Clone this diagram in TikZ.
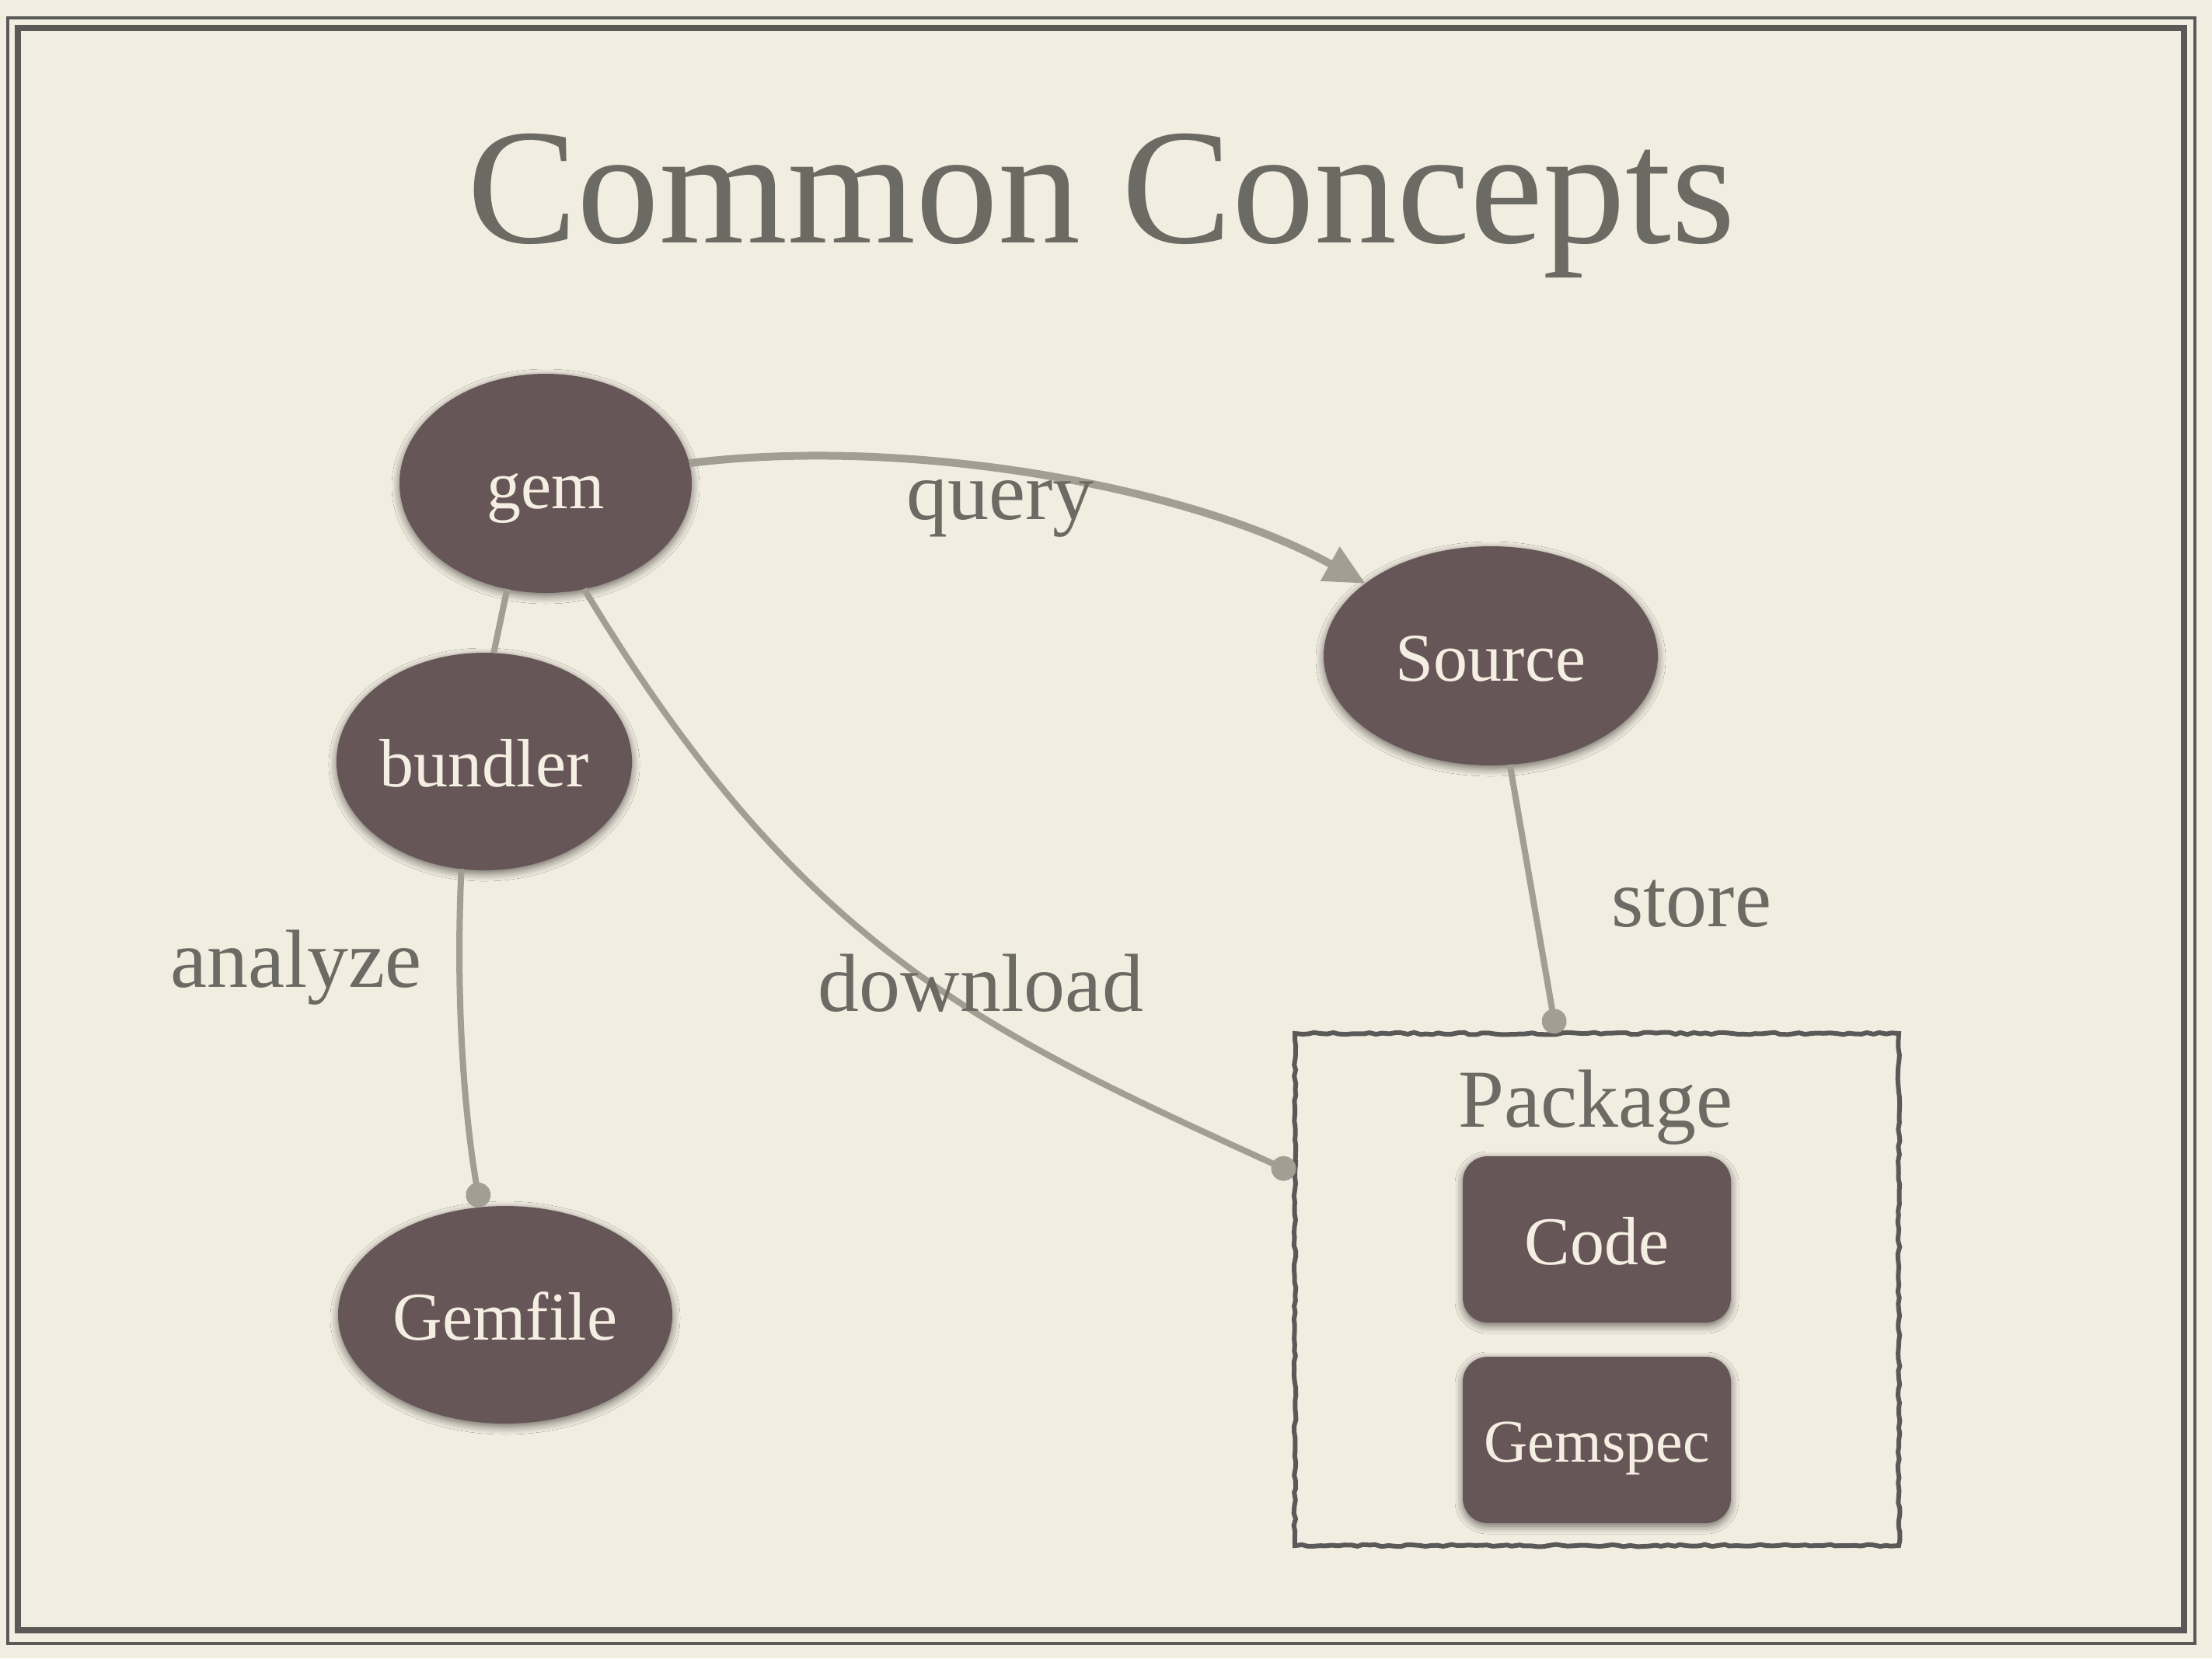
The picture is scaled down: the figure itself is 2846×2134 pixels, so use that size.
\documentclass[tikz,border=0pt]{standalone}
\usepackage{fontspec}
\setmainfont{Liberation Serif}
\usetikzlibrary{shapes.geometric,arrows.meta,shadows.blur,decorations.pathmorphing}

\definecolor{paper}{HTML}{F2EDE1}
\definecolor{plum}{HTML}{675657}
\definecolor{cream}{HTML}{F5EFE3}
\definecolor{wire}{HTML}{A39E94}
\definecolor{ink}{HTML}{6B6A63}
\definecolor{rim}{HTML}{5A5957}

\begin{document}
\begin{tikzpicture}[x=0.25pt,y=-0.25pt,
  softshadow/.style={blur shadow={shadow xshift=0pt, shadow yshift=-1pt,
      shadow blur radius=2.5pt, shadow blur steps=8, shadow opacity=55}},
  blob/.style={ellipse, fill=plum, text=cream, inner sep=0pt, outer sep=0pt,
      font=\fontsize{22pt}{26pt}\selectfont, text height=16pt, text depth=0pt,
      softshadow},
  tile/.style={rectangle, rounded corners=8pt, fill=plum, text=cream,
      inner sep=0pt, outer sep=0pt, minimum width=86.25pt, minimum height=53.5pt,
      font=\fontsize{22pt}{26pt}\selectfont, text height=16pt, text depth=0pt,
      softshadow},
  tag/.style={text=ink, font=\fontsize{26.5pt}{30pt}\selectfont, anchor=base,
      inner sep=0pt},
  link/.style={draw=wire, line width=2pt},
  rough/.style={draw=rim, line width=1.5pt, decorate,
      decoration={random steps, segment length=2pt, amplitude=0.35pt}},
]

% paper and double frame
\fill[paper] (0,0) rectangle (2846,2134);
\useasboundingbox (0,0) rectangle (2846,2134);
\draw[rim, line width=1pt] (9.5,23) rectangle (2824,2115);
\draw[rim, line width=2pt] (23,35.5) rectangle (2809.5,2098);

% title
\node[text=ink, font=\fontsize{53pt}{60pt}\selectfont, anchor=base] (title)
  at (1417,312) {Common Concepts};

% concept nodes
\node[blob, minimum width=94pt,    minimum height=70.5pt] (gem)     at (702,622)  {gem};
\node[blob, minimum width=107.5pt, minimum height=70.5pt] (source)  at (1918,844) {Source};
\node[blob, minimum width=93.5pt,  minimum height=70pt]   (bundler) at (623,980)  {bundler};
\node[blob, minimum width=107.5pt, minimum height=70pt]   (gemfile) at (650,1692) {Gemfile};

% package container and its parts
\node[rough, rectangle, inner sep=0pt, outer sep=0pt,
      minimum width=194.25pt, minimum height=164.75pt] (pkg) at (2054.5,1659.5) {};
\node[tag] (pkglabel) at (2053,1450) {Package};
\node[tile] (code) at (2054.5,1595) {Code};
\node[tile, font=\fontsize{19.5pt}{23pt}\selectfont, text height=14pt] (gemspec)
  at (2054.5,1853) {Gemspec};

% connectors
\draw[link, line width=2.5pt, -{Triangle[length=13pt,width=12pt]}]
  (gem.8) .. controls (1180,560) and (1540,630) .. (source.150);
\draw[link] (gem.250) -- (bundler.85);
\draw[link, -{Circle[length=8pt]}]
  (bundler.258) .. controls (585,1300) and (600,1450) .. (gemfile.103);
\draw[link, -{Circle[length=8pt]}]
  (gem.290) .. controls (1030,1220) and (1260,1325) .. (pkg.159.5);
\draw[link, -{Circle[length=8pt]}] (source.280) -- (pkg.99.6);

% connector labels
\node[tag] (query)    at (1287,668)  {query};
\node[tag] (analyze)  at (381,1270)  {analyze};
\node[tag] (download) at (1262,1301) {download};
\node[tag] (store)    at (2176,1192) {store};

\end{tikzpicture}
\end{document}
